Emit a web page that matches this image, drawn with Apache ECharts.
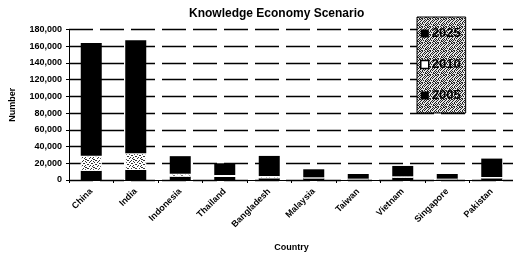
<!DOCTYPE html>
<html><head><meta charset="utf-8">
<script src="https://cdn.jsdelivr.net/npm/echarts@6/dist/echarts.min.js"></script>
<style>html,body{margin:0;padding:0;background:#fff}#c{width:513px;height:254px}</style>
</head><body><div id="c"></div>
<script>
const categories = ['China','India','Indonesia','Thailand','Bangladesh','Malaysia','Taiwan','Vietnam','Singapore','Pakistan'];
// stacked increments
const s2005 = [11000, 12000, 4000, 3600, 2000, 2000, 1000, 2800, 1000, 2000];
const s2010 = [18000, 20000, 3500, 2400, 2800, 1200, 600, 1600, 600, 1600];
const s2025 = [135000, 135000, 21000, 14000, 24000, 9600, 5600, 12400, 5600, 22000];
const yTicks = { min: 0, max: 180000, interval: 20000 };

function makePattern(bits, fg, bg) {
  const n = bits.length;
  const cv = document.createElement('canvas');
  cv.width = n; cv.height = n;
  const ctx = cv.getContext('2d');
  ctx.fillStyle = bg; ctx.fillRect(0, 0, n, n);
  ctx.fillStyle = fg;
  for (let y = 0; y < n; y++) for (let x = 0; x < n; x++) if (bits[y][x] === '1') ctx.fillRect(x, y, 1, 1);
  return { image: cv, repeat: 'repeat' };
}
const speckleLight = ['10010001','00100100','01000010','00011000','10000001','00100100','01001000','00000110'];
const speckleDense = ['10100101','01001010','10010100','00101001','10100010','01010101','10000110','01101001'];
const barPattern = makePattern(speckleLight, '#333', '#fff');
const legendPattern = makePattern(speckleDense, '#222', '#e4e4e4');

const FONT = 'Liberation Sans, Arial, sans-serif';
const chart = echarts.init(document.getElementById('c'), null, { renderer: 'canvas' });
chart.setOption({
  animation: false,
  backgroundColor: '#fff',
  title: {
    text: 'Knowledge Economy Scenario', left: 184, top: 3,
    textStyle: { fontFamily: FONT, fontSize: 12, fontWeight: 'bold', color: '#000' }
  },
  legend: {
    data: [
      { name: '2025', icon: 'rect', itemStyle: { color: '#000' } },
      { name: '2010', icon: 'rect', itemStyle: { color: '#fff', borderColor: '#000', borderWidth: 1.5 } },
      { name: '2005', icon: 'rect', itemStyle: { color: '#000' } }
    ],
    orient: 'vertical', left: 417, top: 17,
    itemWidth: 8, itemHeight: 8, itemGap: 18,
    padding: [10, 5, 11, 3],
    backgroundColor: legendPattern,
    borderColor: '#000', borderWidth: 1,
    textStyle: { fontFamily: FONT, fontSize: 13, fontWeight: 'bold', color: '#000', padding: [0, 0, 0, -2] }
  },
  grid: { left: 69, top: 29.5, width: 445, height: 150.5, containLabel: false, outerBoundsMode: 'none' },
  xAxis: {
    type: 'category', data: categories,
    name: 'Country', nameLocation: 'middle', nameGap: 63,
    nameTextStyle: { fontFamily: FONT, fontSize: 9, fontWeight: 'bold', color: '#000' },
    axisLine: { lineStyle: { color: '#000', width: 1 } },
    axisTick: { show: true, length: 3, lineStyle: { color: '#000' } },
    axisLabel: { rotate: 45, margin: 10, fontFamily: FONT, fontSize: 9, fontWeight: 'bold', color: '#000' }
  },
  yAxis: {
    type: 'value', min: yTicks.min, max: yTicks.max, interval: yTicks.interval,
    name: 'Number', nameLocation: 'middle', nameGap: 52, nameRotate: 90,
    nameTextStyle: { fontFamily: FONT, fontSize: 9, fontWeight: 'bold', color: '#000' },
    axisLine: { show: true, lineStyle: { color: '#000', width: 1 } },
    axisTick: { show: true, length: 3, lineStyle: { color: '#000' } },
    axisLabel: {
      margin: 7, fontFamily: FONT, fontSize: 9, fontWeight: 'bold', color: '#000',
      formatter: v => v.toLocaleString('en-US')
    },
    splitLine: { show: true, lineStyle: { color: '#000', width: 1.3, type: [24, 7] } }
  },
  series: [
    { name: '2005', type: 'bar', stack: 'a', data: s2005, barWidth: 21,
      itemStyle: { color: '#000' } },
    { name: '2010', type: 'bar', stack: 'a', data: s2010, barWidth: 21,
      itemStyle: { color: barPattern, borderColor: '#fff', borderWidth: 1 } },
    { name: '2025', type: 'bar', stack: 'a', data: s2025, barWidth: 21,
      itemStyle: { color: '#000' } }
  ]
});
</script></body></html>
